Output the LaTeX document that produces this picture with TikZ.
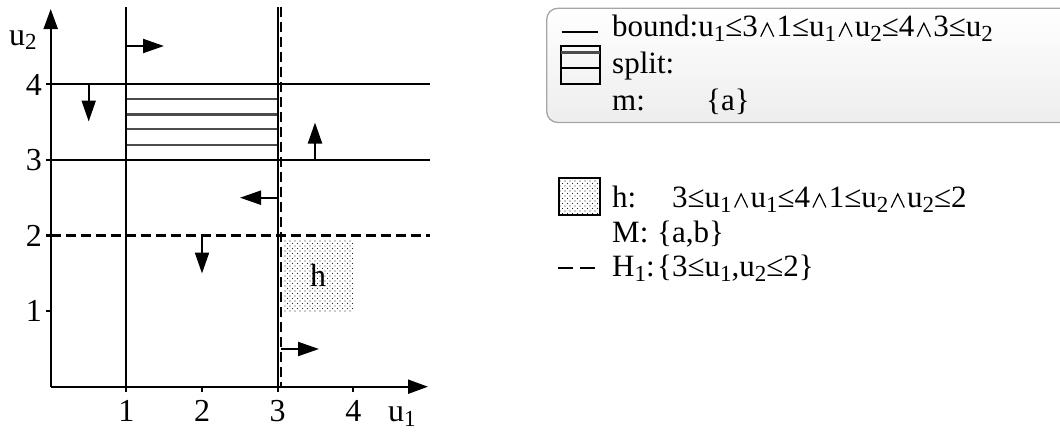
\documentclass[tikz,border=0pt]{standalone}
\usepackage{fontspec}
\setmainfont{Liberation Serif}
\usetikzlibrary{arrows.meta,patterns.meta}
\newcommand{\sbs}[1]{\raisebox{-5pt}{\fontsize{23}{23}\selectfont #1}}
\newcommand{\uo}{u\sbs{1}}
\newcommand{\ut}{u\sbs{2}}
\newcommand{\wdg}{\kern2.3pt\tikz[baseline=0pt]{\draw[line width=1.2pt,line join=miter] (0pt,0pt) -- (6.5pt,13.5pt) -- (13pt,0pt);}\kern2.3pt}
\tikzset{
  txt/.style={inner sep=0pt, font=\fontsize{31}{36}\selectfont},
  axt/.style={inner sep=0pt, font=\fontsize{32}{36}\selectfont},
  ln/.style={line width=2.1pt},
  dsh/.style={line width=2.1pt, dash pattern=on 10pt off 5pt},
  arr/.style={line width=2.1pt, -{Triangle[length=21pt,width=14pt]}},
  hatch/.style={line width=2.4pt, black!70},
  dotfill/.style={pattern={Dots[distance=5pt,radius=0.7pt]}, pattern color=black!85},
  dotfillb/.style={pattern={Dots[distance=5pt,radius=0.7pt,xshift=2.5pt,yshift=2.5pt]}, pattern color=black!85},
}
\begin{document}
\begin{tikzpicture}[x=1pt,y=-1pt]
\useasboundingbox (0,0) rectangle (1060,431);
% ---------- axes ----------
\coordinate (O) at (50.7,386.7);
\coordinate (Ytop) at (50.7,9);
\coordinate (Xend) at (428,386.7);
\draw[ln,-{Triangle[length=20pt,width=14pt]}] (O) -- (Ytop);
\draw[ln,-{Triangle[length=20pt,width=14pt]}] (O) -- (Xend);
% ticks
\foreach \x in {126.3,202,277.7,353.3} \draw[ln] (\x,386.7) -- (\x,392);
\foreach \y in {84.3,159.9,235.5,311.1} \draw[ln] (46,\y) -- (50.7,\y);
% tick labels
\node[axt,anchor=base] (x1) at (126.3,421.7) {1};
\node[axt,anchor=base] (x2) at (202,421.7) {2};
\node[axt,anchor=base] (x3) at (277.7,421.7) {3};
\node[axt,anchor=base] (x4) at (353.3,421.7) {4};
\node[axt,anchor=base west] (u1) at (388,421) {\uo};
\node[axt,anchor=base east] (y1) at (42,321.5) {1};
\node[axt,anchor=base east] (y2) at (42,246) {2};
\node[axt,anchor=base east] (y3) at (42,170.5) {3};
\node[axt,anchor=base east] (y4) at (42,95) {4};
\node[axt,anchor=base west] (u2) at (9,45) {\ut};
% ---------- hatch (split) ----------
\foreach \y in {99,114.3,129,144.7} \draw[hatch] (126.3,\y) -- (277.7,\y);
% ---------- h region ----------
\fill[dotfill] (283.3,240.7) rectangle (354,311.7);
\fill[dotfillb] (283.3,240.7) rectangle (354,311.7);
\node[axt,anchor=base] (hl) at (318,286) {h};
% ---------- bound lines ----------
\draw[ln] (126.3,7) -- (126.3,392);
\draw[ln] (277.7,7) -- (277.7,392);
\draw[ln] (46,84.3) -- (430,84.3);
\draw[ln] (46,159.9) -- (430,159.9);
% ---------- H1 lines ----------
\draw[dsh] (281.2,7) -- (281.2,387);
\draw[dsh] (50.7,235.5) -- (430,235.5);
% ---------- direction arrows ----------
\coordinate (a1s) at (126.3,46); \coordinate (a1e) at (164,46);
\coordinate (a2s) at (88.7,84.3); \coordinate (a2e) at (88.7,121.5);
\coordinate (a3s) at (315,159.9); \coordinate (a3e) at (315,122.5);
\coordinate (a4s) at (277.7,197.7); \coordinate (a4e) at (240,197.7);
\coordinate (a5s) at (202,235.5); \coordinate (a5e) at (202,273.5);
\coordinate (a6s) at (281.2,349); \coordinate (a6e) at (319,349);
\draw[arr] (a1s) -- (a1e);
\draw[arr] (a2s) -- (a2e);
\draw[arr] (a3s) -- (a3e);
\draw[arr] (a4s) -- (a4e);
\draw[arr] (a5s) -- (a5e);
\draw[arr] (a6s) -- (a6e);
% ---------- legend 1 ----------
\draw[draw=gray!70, line width=1.3pt, rounded corners=11pt, top color=white, bottom color=gray!14]
  (546.7,8.3) rectangle (1075,122.5);
\draw[ln] (561.7,31.7) -- (597.7,31.7);
\draw[ln] (560.7,45.7) rectangle (600,84);
\draw[line width=2.4pt,black!70] (560.7,52.3) -- (600,52.3);
\draw[ln] (560.7,68.3) -- (600,68.3);
\node[txt,anchor=base west] (bound) at (612,36.7) {bound:\uo≤3\wdg1≤\uo\wdg\ut≤4\wdg3≤\ut};
\node[txt,anchor=base west] (split) at (612,73.5) {split:};
\node[txt,anchor=base west] (m) at (612,110.5) {m:};
\node[txt,anchor=base west] (mv) at (706,110.5) {\{a\}};
% ---------- legend 2 ----------
\fill[dotfill] (559,178.3) rectangle (600,215);
\fill[dotfillb] (559,178.3) rectangle (600,215);
\draw[ln] (559,178.3) rectangle (600,215);
\node[txt,anchor=base west] (h) at (612,207.5) {h:};
\node[txt,anchor=base west] (hv) at (672,207.5) {3≤\uo\wdg\uo≤4\wdg1≤\ut\wdg\ut≤2};
\node[txt,anchor=base west] (M) at (612,242) {M:};
\node[txt,anchor=base west] (Mv) at (657,242) {\{a,b\}};
\draw[line width=2pt] (558.3,267.5) -- (573.3,267.5);
\draw[line width=2pt] (580,267.5) -- (595,267.5);
\node[txt,anchor=base west] (H) at (612,276.5) {H\sbs{1}:};
\node[txt,anchor=base west] (Hv) at (657,276.5) {\{3≤\uo,\ut≤2\}};
\end{tikzpicture}
\end{document}
